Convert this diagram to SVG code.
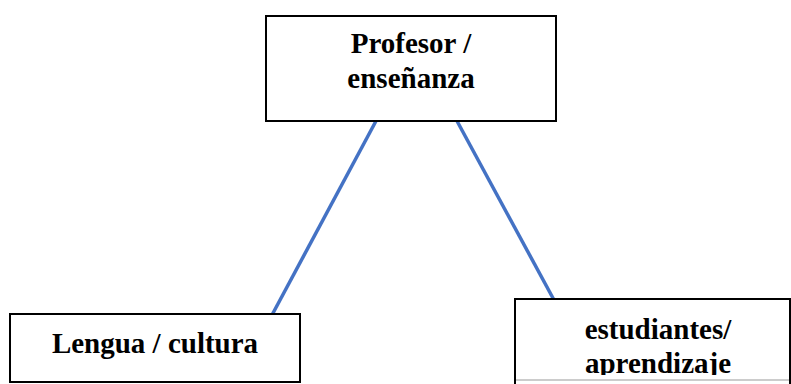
<svg xmlns="http://www.w3.org/2000/svg" width="791" height="384" viewBox="0 0 791 384">
<style>
.box{fill:#fff;stroke:#000;stroke-width:2}
.t{font-family:"Liberation Serif","Times New Roman",serif;font-weight:bold;font-size:29px;fill:#000;text-anchor:middle}
.c{stroke:#4472C4;stroke-width:3.5;fill:none}
</style>
<defs>
<clipPath id="clipR"><rect x="515" y="299" width="276" height="76"/></clipPath>
</defs>
<rect width="791" height="384" fill="#fff"/>
<g id="connectors">
<line class="c" x1="376" y1="121" x2="272" y2="315"/>
<line class="c" x1="457" y1="121" x2="554" y2="300"/>
</g>
<g id="profesor">
<rect class="box" x="266" y="16" width="290" height="105"/>
<text class="t" x="411" y="53">Profesor /</text>
<text class="t" x="411" y="88">enseñanza</text>
</g>
<g id="lengua">
<rect class="box" x="10" y="314" width="290" height="68"/>
<text class="t" x="155" y="353">Lengua / cultura</text>
</g>
<g id="estudiantes">
<path d="M515 384 V299 H790 V384" fill="#fff" stroke="#000" stroke-width="2"/>
<line x1="516" y1="380" x2="789" y2="380" stroke="#bbb" stroke-width="1.5"/>
<g clip-path="url(#clipR)">
<text class="t" x="658" y="339">estudiantes/</text>
<text class="t" x="658" y="373">aprendizaje</text>
</g>
</g>
</svg>
